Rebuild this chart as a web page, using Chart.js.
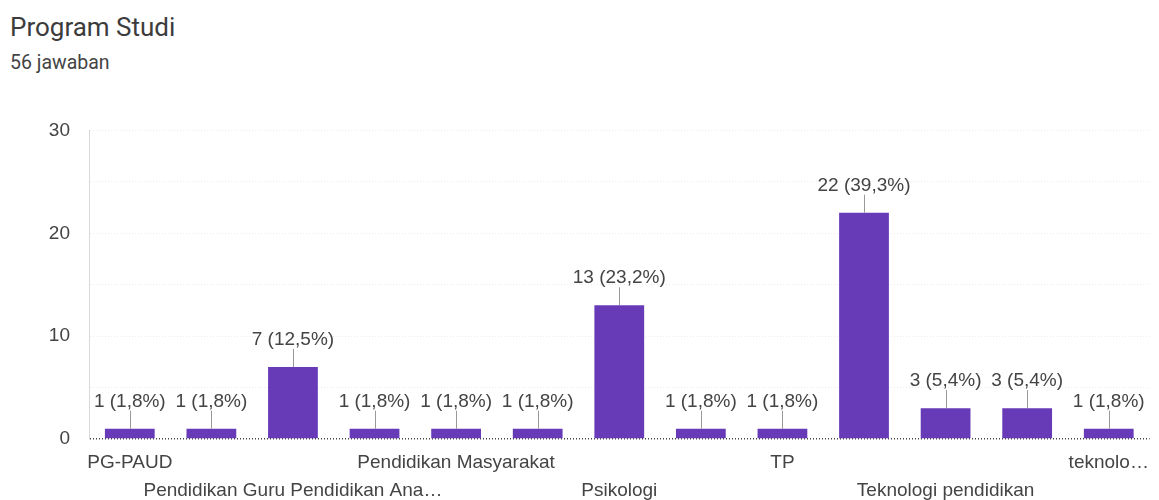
<!DOCTYPE html>
<html>
<head>
<meta charset="utf-8">
<script src="https://cdn.jsdelivr.net/npm/chart.js@4"></script>
<style>
  html, body { margin: 0; padding: 0; background: #fff; }
  body { width: 1159px; height: 500px; position: relative; overflow: hidden; }
  #title { position: absolute; left: 10px; top: 10px; font-family: Roboto, "Noto Sans", sans-serif; font-size: 26px; color: #3c3c3c; line-height: 34px; }
  #subtitle { position: absolute; left: 10px; top: 50px; font-family: Roboto, "Noto Sans", sans-serif; font-size: 19.5px; color: #444; line-height: 26px; }
  #wrap { position: absolute; left: 0; top: 100px; width: 1159px; height: 400px; }
</style>
</head>
<body>
<div id="title">Program Studi</div>
<div id="subtitle">56 jawaban</div>
<div id="wrap"><canvas id="c"></canvas></div>
<script>
const categories = [
  "PG-PAUD",
  "PGPAUD",
  "Pendidikan Guru Pendidikan Ana…",
  "Pendidikan Luar Sekolah",
  "Pendidikan Masyarakat",
  "Pendidikan masyarakat",
  "Psikologi",
  "Psikologi Pendidikan",
  "TP",
  "Teknologi Pendidikan",
  "Teknologi pendidikan",
  "Tp",
  "teknolo…"
];
const counts = [1, 1, 7, 1, 1, 1, 13, 1, 1, 22, 3, 3, 1];
const totalResponses = 56;
const yTickLabels = [0, 10, 20, 30];

const FONT = '"Liberation Sans", Arial, sans-serif';

const barLabelPlugin = {
  id: 'barLabels',
  afterDatasetsDraw(chart) {
    const ctx = chart.ctx;
    const meta = chart.getDatasetMeta(0);
    ctx.save();
    ctx.font = '19px ' + FONT;
    ctx.textAlign = 'center';
    ctx.textBaseline = 'alphabetic';
    meta.data.forEach((bar, i) => {
      const v = counts[i];
      const pct = (v / totalResponses * 100).toFixed(1).replace('.', ',');
      const x = bar.x, y = bar.y;
      ctx.strokeStyle = '#999';
      ctx.lineWidth = 1;
      ctx.beginPath();
      ctx.moveTo(Math.round(x) + 0.5, y);
      ctx.lineTo(Math.round(x) + 0.5, y - 18);
      ctx.stroke();
      ctx.fillStyle = '#444';
      ctx.fillText(v + ' (' + pct + '%)', x, y - 22);
    });
    ctx.restore();
  }
};

new Chart(document.getElementById('c'), {
  type: 'bar',
  data: {
    labels: categories,
    datasets: [{
      data: counts,
      backgroundColor: '#673ab7',
      borderWidth: 0,
      barPercentage: 0.61,
      categoryPercentage: 1.0
    }]
  },
  plugins: [barLabelPlugin],
  options: {
    responsive: true,
    maintainAspectRatio: false,
    animation: false,
    layout: { padding: { left: 0, right: 3, top: 30, bottom: 0 } },
    plugins: {
      legend: { display: false },
      tooltip: { enabled: false }
    },
    scales: {
      x: {
        grid: { display: false, drawTicks: false },
        border: { display: false },
        ticks: {
          autoSkip: false,
          maxRotation: 0,
          minRotation: 0,
          padding: 10,
          color: '#444',
          font: { family: FONT, size: 19, lineHeight: 1.45 },
          callback: function(value, index) {
            if (index % 2 !== 0) return '';
            const lbl = categories[index];
            return (index / 2) % 2 === 0 ? lbl : ['', lbl];
          }
        },
        afterFit(scale) { scale.height = 61; }
      },
      y: {
        min: 0,
        max: 30,
        ticks: {
          stepSize: 5,
          padding: 19,
          color: '#444',
          font: { family: FONT, size: 19 },
          callback: function(value) {
            return yTickLabels.includes(value) ? String(value) : '';
          }
        },
        grid: {
          drawTicks: false,
          color: (ctx) => ctx.tick && ctx.tick.value === 0 ? '#444' : '#ececec',
          lineWidth: (ctx) => ctx.tick && ctx.tick.value === 0 ? 1.5 : 1
        },
        border: { display: true, color: '#d8d8d8', dash: [1, 2] },
        afterFit(scale) { scale.width = 89; }
      }
    }
  }
});
</script>
</body>
</html>
